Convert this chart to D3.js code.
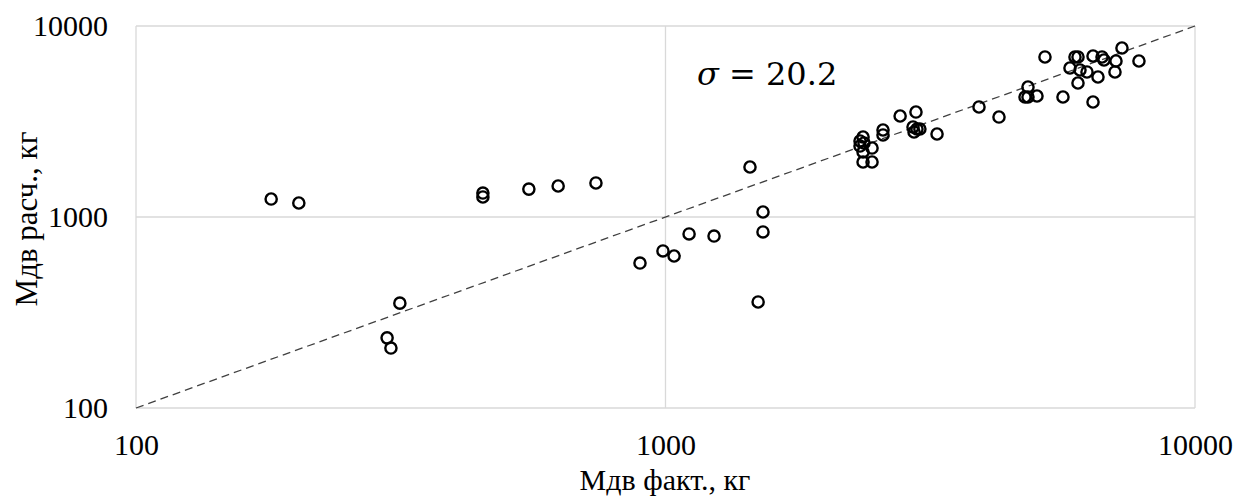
<!DOCTYPE html>
<html><head><meta charset="utf-8">
<script src="https://cdn.jsdelivr.net/npm/d3@7"></script>
<style>body{margin:0;background:#fff}</style></head>
<body><svg id="c" width="1240" height="499"></svg>
<script>
const factX = [180,203,315,298,303,452,452,552,627,739,895,989,1038,1108,1235,1444,1528,1528,1496,
 2361,2330,2371,2330,2455,2361,2361,2455,2575,2575,2774,2972,2934,2985,2947,3023,3257,3909,4264,
 4837,4775,4837,5030,5632,6418,5208,5934,6012,6418,6674,6732,7279,7092,7837,5806,6064,6252,6012,6558,7061];
const calcY = [1242,1184,354,233,206,1335,1273,1400,1453,1507,574,664,625,815,795,1827,1062,835,359,
 2623,2500,2440,2353,2297,2189,1941,1941,2854,2688,3379,3545,2959,2889,2786,2889,2720,3767,3338,
 4794,4249,4249,4300,4249,4000,6883,6883,6883,6966,6883,6637,7670,6558,6558,6028,5884,5745,5030,5408,5745];
const xTicks = [100,1000,10000];
const yTicks = [100,1000,10000];
const sigmaLabel = "20.2";

const svg = d3.select("#c");
const L=136, R=1195, T=26, B=408;
const x = d3.scaleLog().domain([100,10000]).range([L,R]);
const y = d3.scaleLog().domain([100,10000]).range([B,T]);
const grid="#d9d9d9";

svg.append("g").selectAll("line").data(xTicks).join("line")
  .attr("x1",d=>x(d)).attr("x2",d=>x(d)).attr("y1",T).attr("y2",B)
  .attr("stroke",grid).attr("stroke-width",1.3);
svg.append("g").selectAll("line").data(yTicks).join("line")
  .attr("x1",L).attr("x2",R).attr("y1",d=>y(d)).attr("y2",d=>y(d))
  .attr("stroke",grid).attr("stroke-width",1.3);

svg.append("line").attr("x1",x(100)).attr("y1",y(100)).attr("x2",x(10000)).attr("y2",y(10000))
  .attr("stroke","#404040").attr("stroke-width",1.3).attr("stroke-dasharray","8,5");

svg.append("g").selectAll("circle").data(factX.map((v,i)=>[v,calcY[i]])).join("circle")
  .attr("cx",d=>x(d[0])).attr("cy",d=>y(d[1])).attr("r",5.6)
  .attr("fill","none").attr("stroke","#000").attr("stroke-width",2.4);

const font = "'Liberation Serif','Times New Roman',serif";
const xa = svg.append("g").attr("transform",`translate(0,${B})`)
  .call(d3.axisBottom(x).tickValues(xTicks).tickFormat(d3.format("d")).tickSize(0).tickPadding(26));
const ya = svg.append("g").attr("transform",`translate(${L},0)`)
  .call(d3.axisLeft(y).tickValues(yTicks).tickFormat(d3.format("d")).tickSize(0).tickPadding(28));
[xa,ya].forEach(a=>{a.select(".domain").remove();
  a.selectAll("text").attr("font-family",font).attr("font-size",30).attr("fill","#000");});

svg.append("text").attr("x",665).attr("y",490).attr("text-anchor","middle")
  .attr("font-family",font).attr("font-size",30).text("Мдв факт., кг");
svg.append("text").attr("transform","translate(37,219) rotate(-90)").attr("text-anchor","middle")
  .attr("font-family",font).attr("font-size",31).text("Мдв расч., кг");

const st = svg.append("text").attr("x",697).attr("y",85)
  .attr("font-family","'DejaVu Serif','Liberation Serif',serif").attr("font-size",32);
st.append("tspan").attr("font-style","italic").text("σ");
st.append("tspan").text(" = " + sigmaLabel);
</script></body></html>
